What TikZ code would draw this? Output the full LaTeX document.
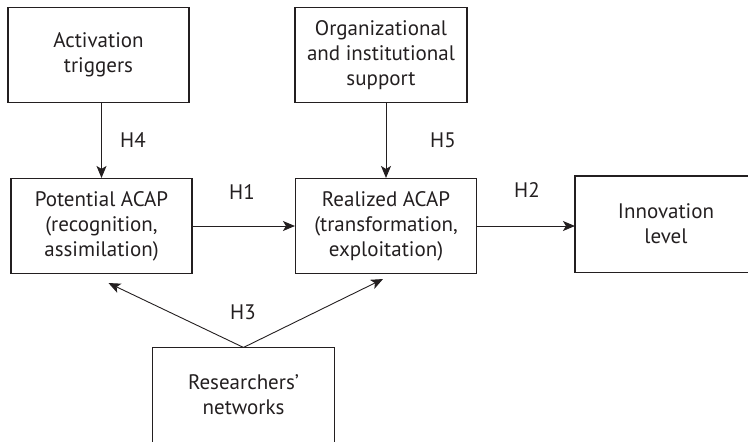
\documentclass[tikz,border=0pt]{standalone}
\usepackage{fontspec}
\setmainfont{PT Sans}
\usetikzlibrary{arrows.meta}

\definecolor{ink}{HTML}{231F20}

\tikzset{
  box/.style={draw=ink, line width=1.1pt, align=center, text=ink,
    minimum width=181pt, minimum height=95pt, inner sep=0pt,
    font=\fontsize{21}{25}\selectfont},
  arr/.style={draw=ink, line width=0.9pt, -{Stealth[length=12pt,width=10pt,inset=3pt]}},
  hlab/.style={text=ink, font=\fontsize{21}{24}\selectfont, inner sep=0pt}
}

\begin{document}
\begin{tikzpicture}[x=1pt,y=-1pt]
    \useasboundingbox (0,0) rectangle (748,442);
    % Boxes
    \node[box] (trig) at (98.5,55) {Activation\\triggers};
    \node[box, minimum width=172pt] (supp) at (381,55) {Organizational\\and institutional\\support};
    \node[box] (pot) at (101.5,226) {Potential ACAP\\(recognition,\\assimilation)};
    \node[box] (real) at (386,226) {Realized ACAP\\(transformation,\\exploitation)};
    % boxes cut off by the page edge
    \node[box, draw=none] (innov) at (666,224) {Innovation\\level};
    \draw[ink, line width=1.1pt] (innov.north east) -- (innov.north west) -- (innov.south west) -- (innov.south east);
    \node[box, draw=none, minimum height=188pt] (res) at (243.5,442) {};
    \node[box, draw=none, minimum height=0pt] (restext) at (243.5,395) {Researchers'\\networks};
    \draw[ink, line width=1.1pt] (res.center -| res.west) -- (res.north west) -- (res.north east) -- (res.center -| res.east);
    % Arrows
    \draw[arr] (trig.south -| pot.north) -- (pot.north);
    \draw[arr] (real.north |- supp.south) -- (real.north);
    \draw[arr] (pot.east) -- (pot.east -| real.west);
    \draw[arr] (real.east) -- (real.east -| innov.west);
    \draw[arr] (res.north) -- ([xshift=7pt,yshift=-9pt]pot.south);
    \draw[arr] (res.north) -- ([xshift=-3pt,yshift=-5pt]real.south);
    % Labels
    \node[hlab] (h4) at (133,140) {H4};
    \node[hlab] (h5) at (443,140) {H5};
    \node[hlab] (h1) at (242,192) {H1};
    \node[hlab] (h2) at (527,190) {H2};
    \node[hlab] (h3) at (243,312) {H3};
\end{tikzpicture}
\end{document}
